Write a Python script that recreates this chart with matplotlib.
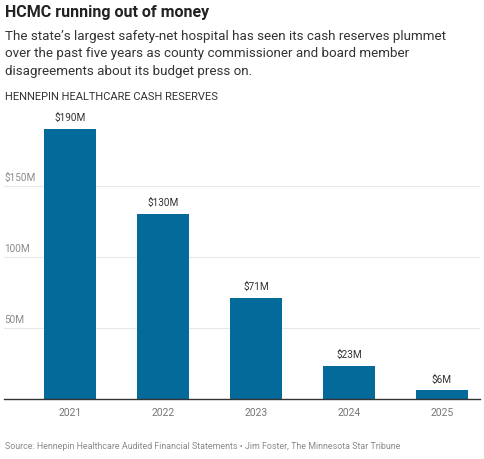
import matplotlib
matplotlib.use("Agg")
import matplotlib.pyplot as plt

years = ["2021", "2022", "2023", "2024", "2025"]
reserves = [190, 130, 71, 23, 6]          # $ millions
bar_labels = ["$190M", "$130M", "$71M", "$23M", "$6M"]
yticks = [50, 100, 150]
ytick_labels = ["50M", "100M", "$150M"]

plt.rcParams['font.family'] = ['Roboto', 'DejaVu Sans']

W, H = 485, 460
fig = plt.figure(figsize=(W / 100, H / 100), dpi=100)

# axes placed in pixel coords: left 4, right 480, bottom 400, top 110
ax = fig.add_axes([4 / W, (H - 400) / H, (480 - 4) / W, (400 - 110) / H])

bar_col = "#046a9a"
x = range(len(years))
ax.bar(x, reserves, width=52 / 93, color=bar_col, zorder=2)
ax.set_xlim(-0.71, 4.41)
ax.set_ylim(0, 204)

for i, v in enumerate(reserves):
    ax.annotate(bar_labels[i], (i, v), xytext=(0, 5), textcoords="offset points",
                ha="center", va="bottom", fontsize=7.2, color="#333333")

for t, lab in zip(yticks, ytick_labels):
    ax.axhline(t, color="#e8e8e8", lw=0.8, zorder=1)
    ax.annotate(lab, (-0.71, t), xytext=(0, 2.5), textcoords="offset points",
                ha="left", va="bottom", fontsize=7.2, color="#8a8a8a")

ax.set_yticks([])
ax.set_xticks(list(x))
ax.set_xticklabels(years, fontsize=7.5, color="#777777")
ax.tick_params(axis="x", length=0, pad=6)
for s in ["top", "right", "left"]:
    ax.spines[s].set_visible(False)
ax.spines["bottom"].set_color("#333333")
ax.spines["bottom"].set_linewidth(1.0)
ax.spines["bottom"].set_zorder(3)

fig.text(5 / W, 1 - 12 / H, "HCMC running out of money", fontsize=11.5,
         fontweight="bold", color="#222222", va="center", ha="left")
fig.text(5 / W, 1 - 54 / H,
         "The state\u2019s largest safety-net hospital has seen its cash reserves plummet\n"
         "over the past five years as county commissioner and board member\n"
         "disagreements about its budget press on.",
         fontsize=9.6, color="#333333", va="center", ha="left", linespacing=1.42)
fig.text(5 / W, 1 - 97 / H, "HENNEPIN HEALTHCARE CASH RESERVES", fontsize=8,
         color="#333333", va="center", ha="left")
fig.text(5 / W, 1 - 447 / H,
         "Source: Hennepin Healthcare Audited Financial Statements \u2022 Jim Foster, The Minnesota Star Tribune",
         fontsize=6.4, color="#8a8a8a", va="center", ha="left")

fig.savefig("out.png", dpi=100)
